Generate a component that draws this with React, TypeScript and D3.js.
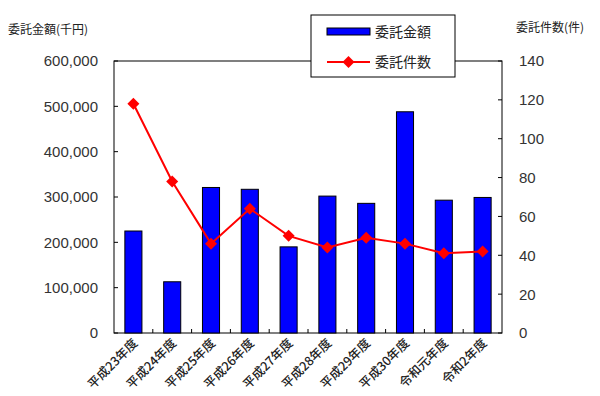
import React from "react";
import * as d3 from "d3";

const categories = ["平成23年度", "平成24年度", "平成25年度", "平成26年度", "平成27年度", "平成28年度", "平成29年度", "平成30年度", "令和元年度", "令和2年度"];
const amounts = [225000, 113000, 321000, 317000, 190000, 302000, 286000, 488000, 293000, 299000];
const counts = [118, 78, 46, 64, 50, 44, 49, 46, 41, 42];
const leftTicks = [0, 100000, 200000, 300000, 400000, 500000, 600000];
const rightTicks = [0, 20, 40, 60, 80, 100, 120, 140];
const amountLabel = "委託金額";
const countLabel = "委託件数";
const leftTitle = "委託金額(千円)";
const rightTitle = "委託件数(件)";

const W = 600, H = 396;
const L = 114, R = 502, T = 61, B = 333;
const jp = "'Noto Sans CJK JP', 'Noto Sans', sans-serif";
const num = "'Liberation Sans', Arial, sans-serif";
const diamond = "M0,-6L6,0L0,6L-6,0Z";

export default function App() {
  const x = d3.scaleBand<string>().domain(categories).range([L, R]).paddingInner(0).paddingOuter(0);
  const yL = d3.scaleLinear().domain([0, 600000]).range([B, T]);
  const yR = d3.scaleLinear().domain([0, 140]).range([B, T]);
  const bw = x.bandwidth() * 0.44;
  const fmt = d3.format(",");
  const cx = (i: number) => x(categories[i])! + x.bandwidth() / 2;
  const line = d3.line<number>().x((_, i) => cx(i)).y((d) => yR(d));
  const boundaries = d3.range(1, categories.length).map((i) => L + i * x.step());

  return (
    <svg width={W} height={H} style={{ position: "absolute", left: 0, top: 0, background: "#fff" }}>
      <rect x={L} y={T} width={R - L} height={B - T} fill="none" stroke="#000" strokeWidth={1} />
      {leftTicks.map((t) => (
        <g key={"l" + t}>
          <line x1={L} x2={L + 4} y1={yL(t)} y2={yL(t)} stroke="#000" />
          <text x={98} y={yL(t)} dy="0.36em" textAnchor="end" fontFamily={num} fontSize={15} fill="#333">{fmt(t)}</text>
        </g>
      ))}
      {rightTicks.map((t) => (
        <g key={"r" + t}>
          <line x1={R - 4} x2={R} y1={yR(t)} y2={yR(t)} stroke="#000" />
          <text x={519} y={yR(t)} dy="0.36em" textAnchor="start" fontFamily={num} fontSize={15} fill="#333">{t}</text>
        </g>
      ))}
      {boundaries.map((b, i) => (
        <line key={"b" + i} x1={b} x2={b} y1={B} y2={B - 4} stroke="#000" />
      ))}
      {amounts.map((v, i) => (
        <rect key={"bar" + i} x={cx(i) - bw / 2} y={yL(v)} width={bw} height={B - yL(v)} fill="#0000FF" stroke="#000" strokeWidth={1} />
      ))}
      <path d={line(counts)!} fill="none" stroke="#FF0000" strokeWidth={2} />
      {counts.map((v, i) => (
        <path key={"m" + i} d={diamond} transform={`translate(${cx(i)},${yR(v)})`} fill="#FF0000" />
      ))}
      {categories.map((c, i) => (
        <text key={c} transform={`translate(${cx(i) + 5},${344}) rotate(-45)`} textAnchor="end" fontFamily={jp} fontSize={12.5} fontWeight={500} fill="#222">{c}</text>
      ))}
      <text x={8} y={34} fontFamily={jp} fontSize={12} fill="#222">{leftTitle}</text>
      <text x={516} y={32} fontFamily={jp} fontSize={12} fill="#222">{rightTitle}</text>
      <rect x={311} y={15} width={144} height={62} fill="#fff" stroke="#000" strokeWidth={1} />
      <rect x={327} y={28} width={43} height={7} fill="#0000FF" stroke="#000" strokeWidth={1} />
      <text x={375} y={32} dy="0.36em" fontFamily={jp} fontSize={14} fill="#222">{amountLabel}</text>
      <line x1={327} x2={370} y1={62} y2={62} stroke="#FF0000" strokeWidth={2} />
      <path d={diamond} transform="translate(348.5,62)" fill="#FF0000" />
      <text x={375} y={62} dy="0.36em" fontFamily={jp} fontSize={14} fill="#222">{countLabel}</text>
    </svg>
  );
}
